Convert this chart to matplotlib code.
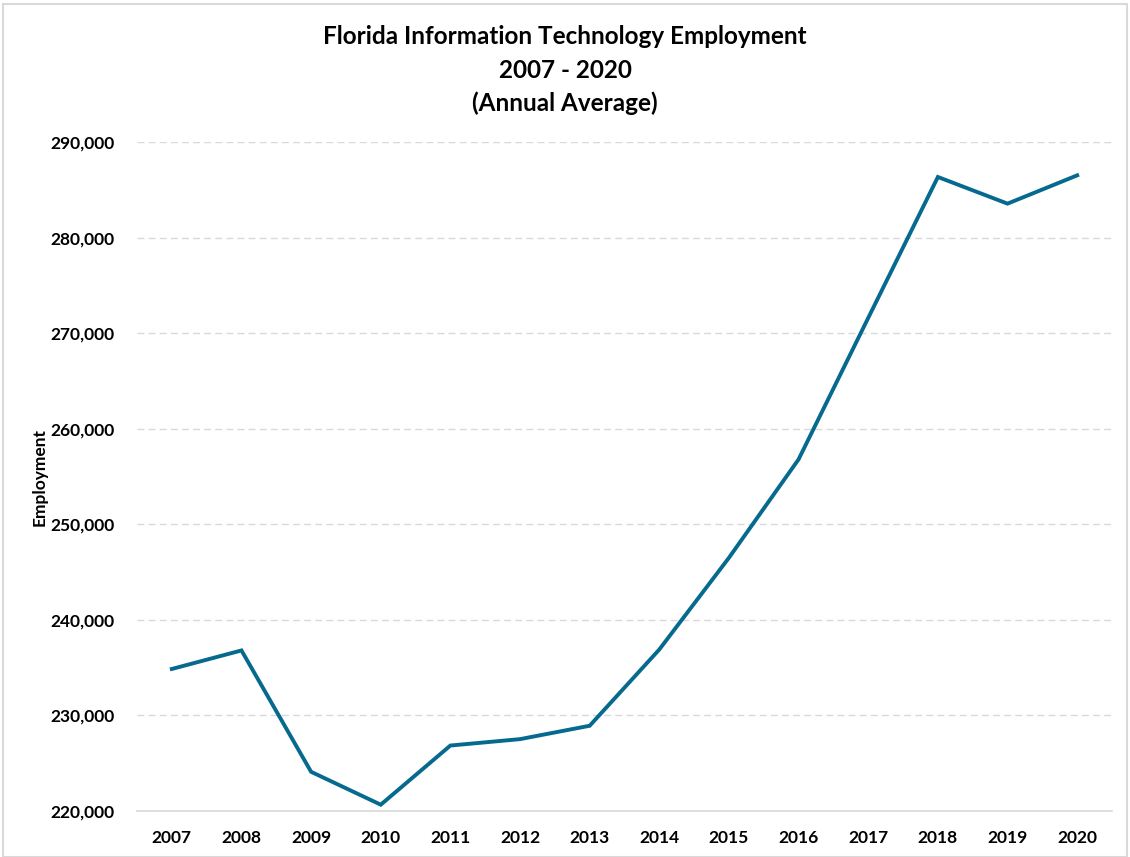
import matplotlib
matplotlib.use("Agg")
import matplotlib.pyplot as plt
from matplotlib.patches import Rectangle
from matplotlib.ticker import FuncFormatter, MultipleLocator

years = ["2007", "2008", "2009", "2010", "2011", "2012", "2013",
         "2014", "2015", "2016", "2017", "2018", "2019", "2020"]
employment = [234860, 236800, 224100, 220660, 226850, 227520, 228920,
              236900, 246500, 256800, 271600, 286340, 283550, 286510]

plt.rcParams['font.family'] = ['Lato', 'DejaVu Sans']

fig = plt.figure(figsize=(11.30, 8.57), dpi=100)
ax = fig.add_axes([137/1130, 1 - 811/857, (1112-137)/1130, (811-142)/857])

x = list(range(len(years)))
ax.plot(x, employment, color='#066a8e', lw=2.8, solid_joinstyle='miter', clip_on=False)

ax.set_xlim(-0.5, len(years) - 0.5)
ax.set_ylim(220000, 290000)
ax.yaxis.set_major_locator(MultipleLocator(10000))
ax.yaxis.set_major_formatter(FuncFormatter(lambda v, p: f"{int(v):,}"))
ax.set_xticks(x)
ax.set_xticklabels(years)

ax.grid(axis='y', color='#d9d9d9', linestyle=(0, (5, 3)), lw=1.0)
ax.set_axisbelow(True)
for s in ['top', 'right', 'left']:
    ax.spines[s].set_visible(False)
ax.spines['bottom'].set_color('#d9d9d9')
ax.spines['bottom'].set_linewidth(1.2)
ax.tick_params(axis='both', length=0, labelsize=12.5, colors='#000000')
ax.tick_params(axis='y', pad=16)
ax.tick_params(axis='x', pad=14)
for lab in ax.get_xticklabels() + ax.get_yticklabels():
    lab.set_fontweight('bold')

fig.text(40/1130, 1 - 477/857, "Employment", rotation=90, ha='center', va='center',
         fontsize=12.5, fontweight='bold')

fig.text(0.5, 1 - 37/857, "Florida Information Technology Employment", ha='center', va='center',
         fontsize=17.5, fontweight='bold')
fig.text(0.5, 1 - 70/857, "2007 - 2020", ha='center', va='center',
         fontsize=17.5, fontweight='bold')
fig.text(0.5, 1 - 103/857, "(Annual Average)", ha='center', va='center',
         fontsize=17.5, fontweight='bold')

fig.patches.append(Rectangle((3/1130, 0), (1127-3)/1130, 1 - 4/857, transform=fig.transFigure,
                             fill=False, edgecolor='#d9d9d9', lw=1.5))

fig.savefig("out.png", dpi=100)
